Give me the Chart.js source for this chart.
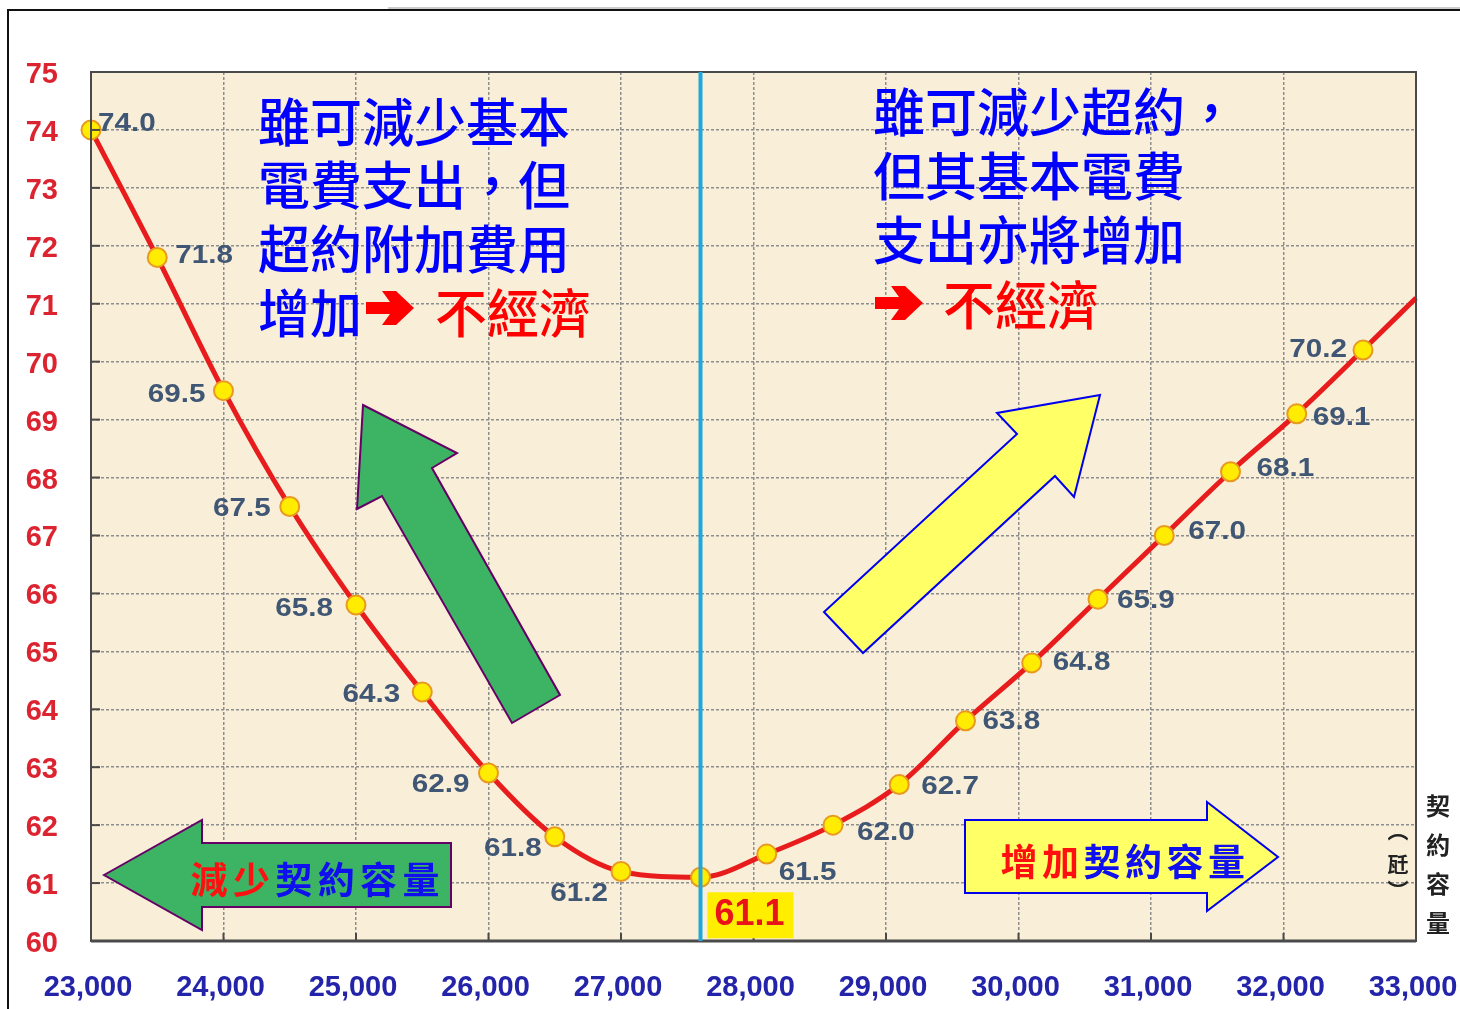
<!DOCTYPE html>
<html lang="zh-Hant">
<head>
<meta charset="UTF-8">
<title>契約容量與電費</title>
<script src="https://cdn.jsdelivr.net/npm/chart.js@4.4.1/dist/chart.umd.min.js"></script>
<style>
  body { margin: 0; background: #fff; }
  #wrap { width: 1460px; height: 1009px; position: relative; }
</style>
</head>
<body>
<div id="wrap"><canvas id="kwChart"></canvas></div>
<script>
// 契約容量 (瓩) 與 電費
const capacity = [23000, 23500, 24000, 24500, 25000, 25500, 26000, 26500, 27000, 27600,
                  28100, 28600, 29100, 29600, 30100, 30600, 31100, 31600, 32100, 32600, 33000];
const cost = [74.0, 71.8, 69.5, 67.5, 65.8, 64.3, 62.9, 61.8, 61.2, 61.1,
              61.5, 62.0, 62.7, 63.8, 64.8, 65.9, 67.0, 68.1, 69.1, 70.2, 71.1];
// 最後一點只是曲線延伸，沒有圓點和數字
const hasMarker = [true, true, true, true, true, true, true, true, true, true,
                   true, true, true, true, true, true, true, true, true, true, false];
const bestIndex = 9;   // 61.1 最低點
const xMin = 23000, xMax = 33000, xStep = 1000;
const yMin = 60, yMax = 75, yStep = 1;

// 數字標籤相對圓點的位置 [dx, dy, 對齊]
const labelPos = [
  [7, -6, 'left'], [18, -2, 'left'], [-18, 4, 'right'], [-19, 2, 'right'], [-23, 4, 'right'],
  [-22, 3, 'right'], [-19, 12, 'right'], [-13, 12, 'right'], [-13, 22, 'right'], null,
  [12, 19, 'left'], [24, 8, 'left'], [22, 2, 'left'], [17, 1, 'left'], [21, 0, 'left'],
  [19, 2, 'left'], [24, -4, 'left'], [26, -3, 'left'], [16, 4, 'left'], [-16, 0, 'right'], null
];

const numFont = '"Liberation Sans", Arial, sans-serif';
const cjkFont = '"Noto Sans CJK TC", "Noto Sans CJK SC", sans-serif';

function poly(ctx, pts, fill, stroke, lw) {
    ctx.beginPath();
    pts.forEach((p, i) => i ? ctx.lineTo(p[0], p[1]) : ctx.moveTo(p[0], p[1]));
    ctx.closePath();
    ctx.fillStyle = fill;
    ctx.fill();
    if (stroke) {
        ctx.strokeStyle = stroke;
        ctx.lineWidth = lw;
        ctx.lineJoin = 'miter';
        ctx.stroke();
    }
}

// 粗箭頭 ➔
function redArrow(ctx, x0, cy) {
    poly(ctx, [[x0, cy - 6], [x0 + 24, cy - 6], [x0 + 16, cy - 17], [x0 + 30, cy - 17], [x0 + 48, cy],
               [x0 + 30, cy + 17], [x0 + 16, cy + 17], [x0 + 24, cy + 6], [x0, cy + 6]], '#ff0000');
}

function charRow(ctx, chars, x, y, step, colors) {
    chars.split('').forEach((c, i) => {
        ctx.fillStyle = colors[i];
        ctx.fillText(c, x + i * step, y);
    });
}

// 原圖數字略為橫向拉寬
function wideText(ctx, t, x, y, sx) {
    ctx.save();
    ctx.translate(x, y);
    ctx.scale(sx, 1);
    ctx.fillText(t, 0, 0);
    ctx.restore();
}

const decoPlugin = {
    id: 'deco',
    beforeDraw(chart) {
        const { ctx, chartArea: a } = chart;
        ctx.save();
        ctx.fillStyle = '#fff';
        ctx.fillRect(0, 0, chart.width, chart.height);
        ctx.fillStyle = '#f9eed8';
        ctx.fillRect(a.left, a.top, a.right - a.left, a.bottom - a.top);
        ctx.restore();
    },
    afterDatasetsDraw(chart) {
        const { ctx, chartArea: a, scales: { x, y } } = chart;
        ctx.save();

        // 外框
        ctx.strokeStyle = '#111';
        ctx.lineWidth = 2;
        ctx.beginPath();
        ctx.moveTo(8, 1009); ctx.lineTo(8, 10); ctx.lineTo(1460, 10);
        ctx.stroke();
        ctx.strokeStyle = '#999';
        ctx.lineWidth = 1;
        ctx.beginPath();
        ctx.moveTo(388, 8); ctx.lineTo(1460, 8);
        ctx.stroke();

        // 圖框與刻度
        ctx.strokeStyle = '#4a4a4a';
        ctx.lineWidth = 2;
        ctx.strokeRect(a.left, a.top, a.right - a.left, a.bottom - a.top);
        for (let v = yMin; v <= yMax; v += yStep) {
            const py = y.getPixelForValue(v);
            ctx.beginPath(); ctx.moveTo(a.left, py); ctx.lineTo(a.left + 9, py); ctx.stroke();
        }
        for (let v = xMin; v <= xMax; v += xStep) {
            const px = x.getPixelForValue(v);
            ctx.beginPath(); ctx.moveTo(px, a.bottom); ctx.lineTo(px, a.bottom - 8); ctx.stroke();
        }
        ctx.lineWidth = 3;
        ctx.beginPath(); ctx.moveTo(a.left, a.bottom); ctx.lineTo(a.right, a.bottom); ctx.stroke();

        // 最佳容量線
        const bx = x.getPixelForValue(capacity[bestIndex]);
        ctx.strokeStyle = '#1ea8dc';
        ctx.lineWidth = 4;
        ctx.beginPath(); ctx.moveTo(bx, a.top); ctx.lineTo(bx, a.bottom); ctx.stroke();

        // 數字標籤
        ctx.font = 'bold 26px ' + numFont;
        ctx.textBaseline = 'middle';
        ctx.fillStyle = '#3f5674';
        cost.forEach((v, i) => {
            const p = labelPos[i];
            if (!p) return;
            ctx.textAlign = p[2];
            wideText(ctx, v.toFixed(1), x.getPixelForValue(capacity[i]) + p[0], y.getPixelForValue(v) + p[1], 1.14);
        });
        // 最低點
        const by = y.getPixelForValue(cost[bestIndex]);
        ctx.fillStyle = '#ffee00';
        ctx.fillRect(bx + 7, by + 15, 86, 46);
        ctx.fillStyle = '#e8141a';
        ctx.font = 'bold 36px ' + numFont;
        ctx.textAlign = 'center';
        ctx.fillText(cost[bestIndex].toFixed(1), bx + 49, by + 38);

        // 大箭頭
        poly(ctx, [[363, 405], [457, 453], [432, 468], [560, 695], [512, 723], [382, 496], [357, 509]],
             '#3db464', '#660066', 2);
        poly(ctx, [[1100, 395], [1074, 497], [1055, 476], [863, 653], [824, 612], [1017, 434], [997, 413]],
             '#ffff66', '#0000ee', 2);
        poly(ctx, [[104, 875], [202, 820], [202, 843], [451, 843], [451, 907], [202, 907], [202, 930]],
             '#3db464', '#660066', 2);
        poly(ctx, [[965, 820], [1207, 820], [1207, 802], [1278, 857], [1207, 911], [1207, 893], [965, 893]],
             '#ffff66', '#0000ee', 2);

        // 說明文字
        ctx.textAlign = 'left';
        ctx.textBaseline = 'middle';
        ctx.font = '500 52px ' + cjkFont;
        ctx.fillStyle = '#0000ff';
        ['雖可減少基本', '電費支出，但', '超約附加費用', '增加'].forEach((t, i) => ctx.fillText(t, 258, 122 + i * 63.7));
        ['雖可減少超約，', '但其基本電費', '支出亦將增加'].forEach((t, i) => ctx.fillText(t, 873, 112 + i * 64));
        ctx.fillStyle = '#ff0000';
        ctx.fillText('不經濟', 435, 313);
        ctx.fillText('不經濟', 943, 305);
        redArrow(ctx, 366, 308);
        redArrow(ctx, 875, 303);

        // 箭頭內文字
        ctx.textAlign = 'center';
        ctx.font = 'bold 37px ' + cjkFont;
        const r = '#ff1010', b = '#1010ee';
        charRow(ctx, '減少契約容量', 209, 880, 42.4, [r, r, b, b, b, b]);
        charRow(ctx, '增加契約容量', 1019, 862, 41.5, [r, r, b, b, b, b]);

        // 軸名稱
        ctx.font = 'bold 24px ' + cjkFont;
        ctx.fillStyle = '#222';
        '契約容量'.split('').forEach((c, i) => ctx.fillText(c, 1438, 806 + i * 39));
        ctx.font = 'bold 21px ' + cjkFont;
        ctx.fillText('︵', 1398, 830);
        ctx.fillText('瓩', 1398, 864);
        ctx.fillText('︶', 1398, 890);

        ctx.restore();
    }
};

document.addEventListener('DOMContentLoaded', function () {
    const ctx = document.getElementById('kwChart').getContext('2d');
    new Chart(ctx, {
        type: 'line',
        data: {
            datasets: [{
                data: capacity.map((c, i) => ({ x: c, y: cost[i] })),
                borderColor: '#e81c1c',
                borderWidth: 5,
                cubicInterpolationMode: 'monotone',
                pointRadius: hasMarker.map(m => m ? 9.5 : 0),
                pointBackgroundColor: '#ffec00',
                pointBorderColor: '#e89a20',
                pointBorderWidth: 2,
                clip: false
            }]
        },
        options: {
            responsive: true,
            maintainAspectRatio: false,
            animation: false,
            layout: { padding: { top: 72, right: 44, left: 0, bottom: 0 } },
            scales: {
                x: {
                    type: 'linear',
                    min: xMin,
                    max: xMax,
                    afterFit: s => { s.height = 68; s.paddingLeft = 0; s.paddingRight = 0; },
                    border: { display: false, dash: [3, 2] },
                    grid: { color: '#8d8d8d', lineWidth: 1.5, drawTicks: false },
                    ticks: {
                        stepSize: xStep,
                        autoSkip: false,
                        maxRotation: 0,
                        padding: 30,
                        labelOffset: -3,
                        color: '#2424aa',
                        font: { family: numFont, size: 29, weight: 'bold' },
                        callback: v => v.toLocaleString('en-US')
                    }
                },
                y: {
                    min: yMin,
                    max: yMax,
                    afterFit: s => { s.width = 91; s.paddingTop = 0; s.paddingBottom = 0; },
                    border: { display: false, dash: [3, 2] },
                    grid: { color: '#8d8d8d', lineWidth: 1.5, drawTicks: false },
                    ticks: {
                        stepSize: yStep,
                        padding: 33,
                        labelOffset: 3,
                        color: '#dc2430',
                        font: { family: numFont, size: 29, weight: 'bold' }
                    }
                }
            },
            plugins: {
                legend: { display: false },
                tooltip: { enabled: false }
            }
        },
        plugins: [decoPlugin]
    });
});
</script>
</body>
</html>
